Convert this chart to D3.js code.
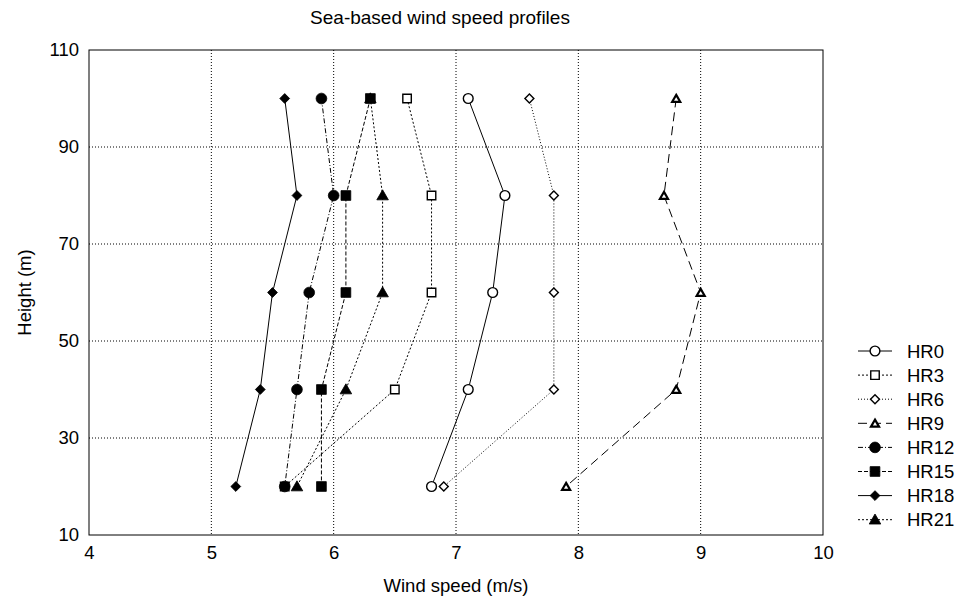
<!DOCTYPE html>
<html>
<head>
<meta charset="utf-8">
<script src="https://cdn.jsdelivr.net/npm/d3@7"></script>
<style>
  body { margin: 0; background: #fff; }
  text { font-family: "Liberation Sans", Arial, sans-serif; fill: #000; }
</style>
</head>
<body>
<svg id="chart"></svg>
<script>
// Heights (m) and wind speeds (m/s) per hour
const heights = [100, 80, 60, 40, 20];
const seriesNames = ['HR0', 'HR3', 'HR6', 'HR9', 'HR12', 'HR15', 'HR18', 'HR21'];
const hr0 = [7.1, 7.4, 7.3, 7.1, 6.8];
const hr3 = [6.6, 6.8, 6.8, 6.5, 5.6];
const hr6 = [7.6, 7.8, 7.8, 7.8, 6.9];
const hr9 = [8.8, 8.7, 9.0, 8.8, 7.9];
const hr12 = [5.9, 6.0, 5.8, 5.7, 5.6];
const hr15 = [6.3, 6.1, 6.1, 5.9, 5.9];
const hr18 = [5.6, 5.7, 5.5, 5.4, 5.2];
const hr21 = [6.3, 6.4, 6.4, 6.1, 5.7];
const xTicks = [4, 5, 6, 7, 8, 9, 10];
const yTicks = [10, 30, 50, 70, 90, 110];

const seriesValues = [hr0, hr3, hr6, hr9, hr12, hr15, hr18, hr21];

// look of each series: marker, fill, dash
const styles = [
  { sym: 'circle', fill: '#fff', dash: null },
  { sym: 'square', fill: '#fff', dash: '2,2' },
  { sym: 'diamond', fill: '#fff', dash: '1,2' },
  { sym: 'triangle', fill: '#fff', dash: '9,5' },
  { sym: 'circle', fill: '#000', dash: '5,2,1,2' },
  { sym: 'square', fill: '#000', dash: '4,2' },
  { sym: 'diamond', fill: '#000', dash: null },
  { sym: 'triangle', fill: '#000', dash: '2,2' }
];

// draw one marker into a selection of paths
function marker(sel, st) {
  const types = { circle: d3.symbolCircle, square: d3.symbolSquare, diamond: d3.symbolSquare, triangle: d3.symbolTriangle };
  const open = st.fill === '#fff';
  let size;
  if (st.sym === 'circle') size = open ? 75 : 90;
  else if (st.sym === 'square') size = open ? 72 : 95;
  else if (st.sym === 'diamond') size = open ? 40 : 48;
  else size = open ? 28 : 58;
  sel.attr('d', d3.symbol().type(types[st.sym]).size(size))
      .attr('fill', st.fill)
      .attr('stroke', '#000')
      .attr('stroke-width', open ? (st.sym === 'triangle' ? 2.2 : 1.4) : 0.8);
  return st.sym === 'diamond' ? ' rotate(45)' : (st.sym === 'triangle' ? ' translate(0,1)' : '');
}

const W = 968, H = 608;
const margin = { top: 50, right: 145, bottom: 73, left: 89 };
const width = W - margin.left - margin.right;
const height = H - margin.top - margin.bottom;
const fs = '18.5px';

const svg = d3.select('#chart').attr('width', W).attr('height', H);
const g = svg.append('g').attr('transform', `translate(${margin.left},${margin.top})`);

const x = d3.scaleLinear().domain([4, 10]).range([0, width]);
const y = d3.scaleLinear().domain([10, 110]).range([height, 0]);

// grid lines
g.append('g')
    .selectAll('line')
    .data(xTicks.slice(1, -1))
    .join('line')
    .attr('x1', d => x(d)).attr('x2', d => x(d))
    .attr('y1', 0).attr('y2', height)
    .attr('stroke', '#000').attr('stroke-width', 1)
    .attr('stroke-dasharray', '1,2');

g.append('g')
    .selectAll('line')
    .data(yTicks.slice(1, -1))
    .join('line')
    .attr('y1', d => y(d)).attr('y2', d => y(d))
    .attr('x1', 0).attr('x2', width)
    .attr('stroke', '#000').attr('stroke-width', 1)
    .attr('stroke-dasharray', '1,2');

// axes (labels only, frame drawn separately)
const xAxis = g.append('g')
    .attr('transform', `translate(0,${height})`)
    .call(d3.axisBottom(x).tickValues(xTicks).tickFormat(d3.format('d')).tickSize(0).tickPadding(11));
const yAxis = g.append('g')
    .call(d3.axisLeft(y).tickValues(yTicks).tickFormat(d3.format('d')).tickSize(0).tickPadding(10));
[xAxis, yAxis].forEach(a => {
  a.select('.domain').remove();
  a.selectAll('text').style('font-size', fs).attr('fill', '#000');
});

g.append('rect')
    .attr('width', width).attr('height', height)
    .attr('fill', 'none').attr('stroke', '#000').attr('stroke-width', 1);

// series lines and markers
const line = d3.line()
    .x(d => x(d.v))
    .y(d => y(d.h));

seriesNames.forEach((name, i) => {
  const st = styles[i];
  const pts = heights.map((h, j) => ({ h: h, v: seriesValues[i][j] }));
  g.append('path')
      .datum(pts)
      .attr('d', line)
      .attr('fill', 'none')
      .attr('stroke', '#000')
      .attr('stroke-width', 1)
      .attr('stroke-dasharray', st.dash);
  const m = g.selectAll('.m' + i)
      .data(pts)
      .join('path')
      .attr('class', 'm' + i);
  const extra = marker(m, st);
  m.attr('transform', d => `translate(${x(d.v)},${y(d.h)})${extra}`);
});

// legend
const legend = svg.append('g').attr('transform', 'translate(858,351)');
seriesNames.forEach((name, i) => {
  const st = styles[i];
  const row = legend.append('g').attr('transform', `translate(0,${i * 24.1})`);
  row.append('line')
      .attr('x1', 0).attr('x2', 34)
      .attr('stroke', '#000').attr('stroke-width', 1)
      .attr('stroke-dasharray', st.dash);
  const p = row.append('path');
  const extra = marker(p, st);
  p.attr('transform', `translate(17,0)${extra}`);
  row.append('text')
      .attr('x', 49).attr('dy', '0.36em')
      .style('font-size', fs)
      .text(name);
});

// titles
svg.append('text')
    .attr('x', 440).attr('y', 24)
    .attr('text-anchor', 'middle')
    .style('font-size', '19px')
    .text('Sea-based wind speed profiles');

svg.append('text')
    .attr('x', margin.left + width / 2).attr('y', 592)
    .attr('text-anchor', 'middle')
    .style('font-size', fs)
    .text('Wind speed (m/s)');

svg.append('text')
    .attr('transform', `translate(31,${margin.top + height / 2}) rotate(-90)`)
    .attr('text-anchor', 'middle')
    .style('font-size', fs)
    .text('Height (m)');
</script>
</body>
</html>
